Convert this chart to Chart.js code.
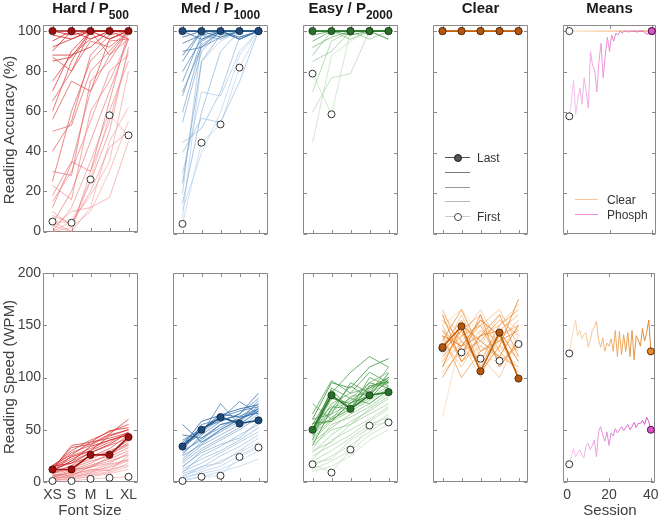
<!DOCTYPE html>
<html><head><meta charset="utf-8">
<script src="https://cdn.jsdelivr.net/npm/chart.js@4"></script>
<style>
html,body{margin:0;padding:0;background:#fff;}
#wrap{position:relative;width:658px;height:517px;overflow:hidden;font-family:"Liberation Sans",Arial,sans-serif;color:#333;}
canvas{position:absolute;}
.title{position:absolute;top:-1px;font-weight:bold;font-size:15px;white-space:nowrap;transform:translateX(-50%);line-height:17px;color:#1a1a1a;}
.title sub{font-size:12px;vertical-align:baseline;position:relative;top:6px;}
.lab{position:absolute;font-size:15px;white-space:nowrap;color:#404040;transform:translate(-50%,-50%);}
.rot{transform:translate(-50%,-50%) rotate(-90deg);}
.lg{position:absolute;height:0;}
.lgt{position:absolute;font-size:12px;color:#333;white-space:nowrap;transform:translateY(-50%);}
.dot{position:absolute;width:6px;height:6px;border-radius:50%;}
</style></head>
<body><div id="wrap"></div>
<script>
// ---------- data ----------
const fontSizes = ['XS','S','M','L','XL'];
const accTicks = [0,20,40,60,80,100];
const wpmTicks = [0,50,100,150,200];
const sessionTicks = [0,20,40];
const sessions = [1,2,3,4,5,6,7,8,9,10,11,12,13,14,15,16,17,18,19,20,21,22,23,24,25,26,27,28,29,30,31,32,33,34,35,36,37,38,39,40];

// Accuracy (%) per font size; sessions listed from early to late
const hardAccFirst = [5,4.4,26,58,48];
const hardAccLast  = [100,100,100,100,100];
const hardAccMid = [
 [0,2,10,30,55],[3,0,12,45,62],[0,5,18,35,80],[2,10,12,17,45],[5,0,30,55,90],
 [8,4,20,42,50],[0,12,35,60,85],[10,3,25,50,92],[23,16,60,75,96],[15,30,55,80,88],
 [4,20,45,70,96],[18,35,30,65,100],[12,34,70,88,96],[30,28,75,85,100],[50,53,80,90,100],
 [25,60,85,95,96],[40,55,88,98,100],[65,80,95,92,100],[56,75,70,96,100],[60,85,100,88,100],
 [75,88,96,100,100],[87,80,100,96,100],[70,90,100,100,96],[85,87,100,100,100],[88,88,92,100,100],
 [92,96,100,100,100],[90,100,96,100,100],[95,100,100,96,100],[98,96,100,100,100],[100,98,100,100,100]
];
const medAccFirst = [5,45,54,82,100];
const medAccLast  = [100,100,100,100,100];
const medAccMid = [
 [12,40,60,88,100],[8,85,95,100,100],[30,70,68,90,100],[20,95,100,100,100],[40,57,55,75,100],
 [45,52,70,97,100],[15,60,90,100,100],[55,90,100,100,100],[25,85,98,100,100],[60,93,100,96,100],
 [68,95,100,100,100],[70,92,97,100,100],[75,98,96,100,100],[80,96,100,100,100],[85,100,100,96,100],
 [90,92,100,100,100],[88,100,100,100,100],[94,98,100,100,100],[97,100,97,100,100],[100,96,100,96,100],
 [100,100,100,97,100]
];
const easyAccFirst = [79,59,100,100,100];
const easyAccLast  = [100,100,100,100,100];
const easyAccMid = [
 [45,88,95,100,100],[60,77,79,100,96],[70,95,100,100,100],[85,90,100,96,100],[88,100,96,100,100],
 [92,97,100,100,100],[95,100,100,100,100],[98,100,100,100,100],[100,100,98,100,96],[100,100,100,100,100]
];
const clearAccFirst = [100,100,100,100,100];
const clearAccLast  = [100,100,100,100,100];
const clearAccMid = [[100,100,100,100,100],[100,100,100,100,100],[100,100,100,100,100]];

// Reading speed (WPM) per font size
const hardWpmFirst = [1,1,3,4,5];
const hardWpmLast  = [12,12,26,26,43];
const hardWpmMid = [
 [2,3,5,8,12],[3,2,6,9,15],[1,4,7,10,18],[4,5,8,12,16],[2,6,10,14,20],
 [5,4,9,15,22],[3,7,12,11,25],[6,8,11,17,21],[5,9,14,18,28],[7,6,15,20,26],
 [4,10,16,22,30],[8,12,14,24,33],[6,11,18,27,35],[9,13,20,25,38],[10,15,22,30,36],
 [8,16,25,28,40],[12,18,24,32,45],[11,20,28,35,42],[13,22,30,38,48],[10,25,32,40,46],
 [14,28,35,45,50],[12,35,38,42,47],[15,30,40,48,55],[13,33,36,46,60],[16,26,38,49,52],
 [14,24,30,44,50],[11,20,34,40,45],[15,18,28,36,47]
];
const medWpmFirst = [1,5,6,24,33];
const medWpmLast  = [34,50,62,56,59];
const medWpmMid = [
 [2,5,10,15,22],[4,8,12,20,30],[3,10,15,25,35],[6,12,20,28,38],[5,15,18,30,42],
 [8,14,25,34,45],[10,18,28,38,48],[12,22,30,40,52],[9,25,34,45,55],[15,28,36,42,58],
 [14,30,40,50,62],[18,32,42,52,65],[20,35,45,55,68],[22,38,48,58,70],[25,36,50,60,72],
 [28,42,52,62,75],[30,40,55,58,78],[26,45,58,65,80],[32,48,60,63,70],[35,46,75,55,68],
 [30,55,60,77,65],[40,50,62,68,72],[38,52,58,65,85],[55,38,50,60,68],[45,42,55,60,70],
 [36,50,65,62,66],[35,58,64,70,74]
];
const easyWpmFirst = [17,9,31,54,57];
const easyWpmLast  = [50,83,70,83,86];
const easyWpmMid = [
 [10,15,25,40,50],[12,20,30,45,55],[15,25,35,48,60],[18,22,40,52,65],[20,30,42,55,62],
 [25,35,45,58,70],[22,40,50,60,72],[30,38,55,65,75],[28,45,58,68,80],[35,50,55,70,82],
 [32,55,62,72,85],[38,52,65,75,88],[40,58,68,78,90],[42,60,70,80,92],[45,62,72,85,95],
 [48,65,75,88,98],[50,68,78,90,100],[44,70,80,95,105],[52,60,82,85,110],[46,75,85,90,95],
 [75,60,70,90,100],[55,72,70,100,92],[40,90,80,75,88],[65,97,85,105,95],[60,65,95,85,100],
 [55,85,105,120,110],[35,70,92,80,98],[48,80,75,95,90],[60,95,90,110,118],[56,58,76,82,104],
 [50,88,70,92,96]
];
const clearWpmFirst = [128,124,118,116,132];
const clearWpmLast  = [129,149,106,143,99];
const clearWpmMid = [
 [62,140,120,130,110],[150,165,140,125,150],[140,120,155,110,135],[120,150,130,160,145],
 [110,135,100,140,125],[160,140,165,130,120],[135,110,140,150,170],[125,160,120,100,140],
 [145,130,150,165,130],[105,125,145,135,155],[150,115,130,120,110],[130,155,110,145,160],
 [115,145,160,125,105],[165,125,135,155,140],[140,100,125,140,150],[120,140,150,115,130],
 [155,135,115,150,165],[100,130,140,160,120],[135,165,125,135,145],[145,120,160,110,135],
 [125,145,105,130,175],[160,115,140,145,115],[110,150,135,120,150],[140,130,155,140,100]
];

// Session means
const clearAccMean = [100,100,100,100,100,100,100,100,100,100,100,100,100,100,100,100,100,100,100,100,100,100,100,100,100,100,100,100,100,100,100,100,100,100,100,100,100,100,100,100];
const phosphAccMean = [58,66,76,59,66,72,64,77,70,62,90,83,81,70,85,94,77,88,97,90,98,95,99,98,100,99,100,100,99.5,100,100,100,99.5,100,100,100,99,98.5,99,100];
const clearWpmMean = [123,135,145,155,140,145,137,141,143,129,135,145,148,154,136,129,138,125,133,130,137,125,145,120,144,122,141,125,143,120,145,117,140,136,130,147,135,143,155,125];
const phosphWpmMean = [17,24,32,24,28,31,26,23,34,37,31,35,40,24,48,53,45,39,48,35,47,44,51,47,50,53,49,52,55,50,53,57,52,56,56,59,55,62,58,50];

// ---------- styles ----------
const PAL = {
  hard:  {light:[243,150,150,0.55], dark:[212,38,38,0.85], lastLine:'#a51818', lastFill:'#9c1010', lastEdge:'#4a0505'},
  med:   {light:[165,198,230,0.55], dark:[45,105,165,0.85], lastLine:'#24588a', lastFill:'#1d4a78', lastEdge:'#0c2440'},
  easy:  {light:[172,215,165,0.55], dark:[55,145,55,0.85], lastLine:'#2d7a2d', lastFill:'#2a6f2a', lastEdge:'#123812'},
  clear: {light:[250,202,150,0.55], dark:[232,125,30,0.85], lastLine:'#c0620f', lastFill:'#b5560e', lastEdge:'#4a2205'},
  clearM:{light:[250,218,180,1], dark:[228,135,45,1], lastFill:'#e88b2e', lastEdge:'#5a3000'},
  phosM: {light:[246,198,236,1], dark:[214,82,194,1], lastFill:'#d955c6', lastEdge:'#5a1050'}
};
function mix(p,t){const c=p.light.map((v,i)=>v+(p.dark[i]-v)*t);return `rgba(${Math.round(c[0])},${Math.round(c[1])},${Math.round(c[2])},${c[3].toFixed(2)})`;}

Chart.defaults.font.family = '"Liberation Sans", Arial, sans-serif';
Chart.defaults.font.size = 14;
Chart.defaults.color = '#404040';

const boxPlugin = {
  id:'boxTicks',
  beforeDatasetsDraw(chart){
    const {ctx, chartArea:a} = chart; const x=chart.scales.x, y=chart.scales.y;
    const L=Math.round(a.left)+0.5, R=Math.round(a.right)-0.5, T=Math.round(a.top)+0.5, B=Math.round(a.bottom)-0.5;
    ctx.save(); ctx.strokeStyle='#8a8a8a'; ctx.lineWidth=1; ctx.beginPath();
    ctx.rect(L,T,R-L,B-T);
    const tl=3.5;
    x.ticks.forEach((t,i)=>{const p=Math.round(x.getPixelForTick(i))+0.5; ctx.moveTo(p,B);ctx.lineTo(p,B-tl);ctx.moveTo(p,T);ctx.lineTo(p,T+tl);});
    y.ticks.forEach((t,i)=>{const p=Math.round(y.getPixelForTick(i))+0.5; ctx.moveTo(L,p);ctx.lineTo(L+tl,p);ctx.moveTo(R,p);ctx.lineTo(R-tl,p);});
    ctx.stroke(); ctx.restore();
  }
};

const wrap = document.getElementById('wrap');
const boxLeft = [43,173,303,433,563];
const boxTop = [25,273];
const BOXH = 209;

function makeChart(col,row,datasets,xScale,yMax,yTicks){
  const W = col===4 ? 93 : 95;
  const yLab = col===0, xLab = row===1 && (col===0||col===4);
  const padL = yLab?43:8, padR=8, padT=12, padB = xLab?30:8;
  const cv = document.createElement('canvas');
  const cw=W+padL+padR, ch=BOXH+padT+padB;
  cv.width=cw; cv.height=ch; cv.style.width=cw+'px'; cv.style.height=ch+'px';
  cv.style.left=(boxLeft[col]-padL)+'px'; cv.style.top=(boxTop[row]-padT)+'px';
  wrap.appendChild(cv);
  xScale.display = true;
  xScale.grid = {display:false, drawTicks:false};
  xScale.border = {display:false};
  xScale.ticks = Object.assign({display:xLab, padding:5, maxRotation:0, autoSkip:false, color:'#404040', font:{size:14}}, xScale.ticks||{});
  xScale.afterFit = s=>{s.height = xLab?30:0;};
  new Chart(cv,{
    type:'line',
    data:{labels: xScale.type==='category'?fontSizes:undefined, datasets: datasets.slice().reverse()},
    options:{
      responsive:false, animation:false, devicePixelRatio:1, events:[],
      layout:{autoPadding:false, padding:{left:yLab?0:padL, right:padR, top:padT, bottom:xLab?0:padB}},
      plugins:{legend:{display:false}, tooltip:{enabled:false}},
      scales:{
        x: xScale,
        y: {type:'linear', min:0, max:yMax, display:true, grid:{display:false,drawTicks:false}, border:{display:false},
            ticks:{display:yLab, padding:2, color:'#404040', font:{size:14}},
            afterBuildTicks: s=>{s.ticks = yTicks.map(v=>({value:v}));},
            afterFit: s=>{s.width = yLab?43:0;}}
      }
    },
    plugins:[boxPlugin]
  });
}

function fontPanel(col,row,first,mid,last,pal,yMax,yTicks){
  const base = {clip:false, fill:false, tension:0, pointRadius:0, borderWidth:1};
  const ds = [];
  ds.push(Object.assign({}, base, {data:first, borderColor:mix(pal,0)}));
  mid.forEach((m,i)=>ds.push(Object.assign({}, base, {data:m, borderColor:mix(pal, mid.length>1? i/(mid.length-1):1)})));
  ds.push(Object.assign({}, base, {data:first, showLine:false, pointRadius:3.5, pointBackgroundColor:'#fff', pointBorderColor:'#333', pointBorderWidth:1}));
  ds.push(Object.assign({}, base, {data:last, borderColor:pal.lastLine, borderWidth:1.6, pointRadius:3.6, pointBackgroundColor:pal.lastFill, pointBorderColor:pal.lastEdge, pointBorderWidth:0.8}));
  makeChart(col,row,ds,{type:'category', offset:true},yMax,yTicks);
}

function meanSeries(vals,pal){
  const n=vals.length;
  return {clip:false, fill:false, tension:0, borderWidth:1,
    data: sessions.map((s,i)=>({x:s,y:vals[i]})),
    borderColor: mix(pal,0.5),
    segment:{borderColor: c=>mix(pal, c.p0DataIndex/(n-2))},
    pointRadius: c=>(c.dataIndex===0||c.dataIndex===n-1)?3.5:0,
    pointBackgroundColor: c=>c.dataIndex===0?'#fff':pal.lastFill,
    pointBorderColor: c=>c.dataIndex===0?'#333':pal.lastEdge,
    pointBorderWidth:1};
}
function meansPanel(row,clearVals,phosVals,yMax,yTicks){
  makeChart(4,row,[meanSeries(clearVals,PAL.clearM), meanSeries(phosVals,PAL.phosM)],
    {type:'linear', min:-2, max:42, afterBuildTicks:s=>{s.ticks=sessionTicks.map(v=>({value:v}));}}, yMax, yTicks);
}

fontPanel(0,0,hardAccFirst,hardAccMid,hardAccLast,PAL.hard,103,accTicks);
fontPanel(1,0,medAccFirst,medAccMid,medAccLast,PAL.med,103,accTicks);
fontPanel(2,0,easyAccFirst,easyAccMid,easyAccLast,PAL.easy,103,accTicks);
fontPanel(3,0,clearAccFirst,clearAccMid,clearAccLast,PAL.clear,103,accTicks);
meansPanel(0,clearAccMean,phosphAccMean,103,accTicks);
fontPanel(0,1,hardWpmFirst,hardWpmMid,hardWpmLast,PAL.hard,200,wpmTicks);
fontPanel(1,1,medWpmFirst,medWpmMid,medWpmLast,PAL.med,200,wpmTicks);
fontPanel(2,1,easyWpmFirst,easyWpmMid,easyWpmLast,PAL.easy,200,wpmTicks);
fontPanel(3,1,clearWpmFirst,clearWpmMid,clearWpmLast,PAL.clear,200,wpmTicks);
meansPanel(1,clearWpmMean,phosphWpmMean,200,wpmTicks);

// ---------- text ----------
function el(cls,html,css){const d=document.createElement('div');d.className=cls;d.innerHTML=html;Object.assign(d.style,css);wrap.appendChild(d);return d;}
const titles = ['Hard / P<sub>500</sub>','Med / P<sub>1000</sub>','Easy / P<sub>2000</sub>','Clear','Means'];
titles.forEach((t,i)=>el('title',t,{left:(boxLeft[i]+(i===4?46.5:47.5))+'px'}));
el('lab rot','Reading Accuracy (%)',{left:'8px',top:'130px'});
el('lab rot','Reading Speed (WPM)',{left:'8px',top:'377px'});
el('lab','Font Size',{left:'90px',top:'509px'});
el('lab','Session',{left:'610px',top:'509px'});

// legend in Clear panel
const lgItems = [
  {y:157, c:'#555', dot:'fill', text:'Last'},
  {y:172, c:'#777'},
  {y:186.5, c:'#999'},
  {y:201, c:'#bbb'},
  {y:216, c:'#ccc', dot:'open', text:'First'}
];
lgItems.forEach(it=>{
  el('lg','',{left:'445px',top:it.y+'px',width:'25px',borderTop:'1px solid '+it.c});
  if(it.dot){el('dot','',{left:'454px',top:(it.y-3)+'px',background:it.dot==='fill'?'#555':'#fff',border:'1px solid '+(it.dot==='fill'?'#222':'#444')});}
  if(it.text){el('lgt',it.text,{left:'477px',top:(it.y+0.5)+'px'});}
});
[{y:199,c:'#f7c896',t:'Clear'},{y:214,c:'#ec8fdc',t:'Phosph'}].forEach(it=>{
  el('lg','',{left:'575px',top:it.y+'px',width:'23px',borderTop:'1px solid '+it.c});
  el('lgt',it.t,{left:'607px',top:(it.y+0.5)+'px'});
});
</script></body></html>
